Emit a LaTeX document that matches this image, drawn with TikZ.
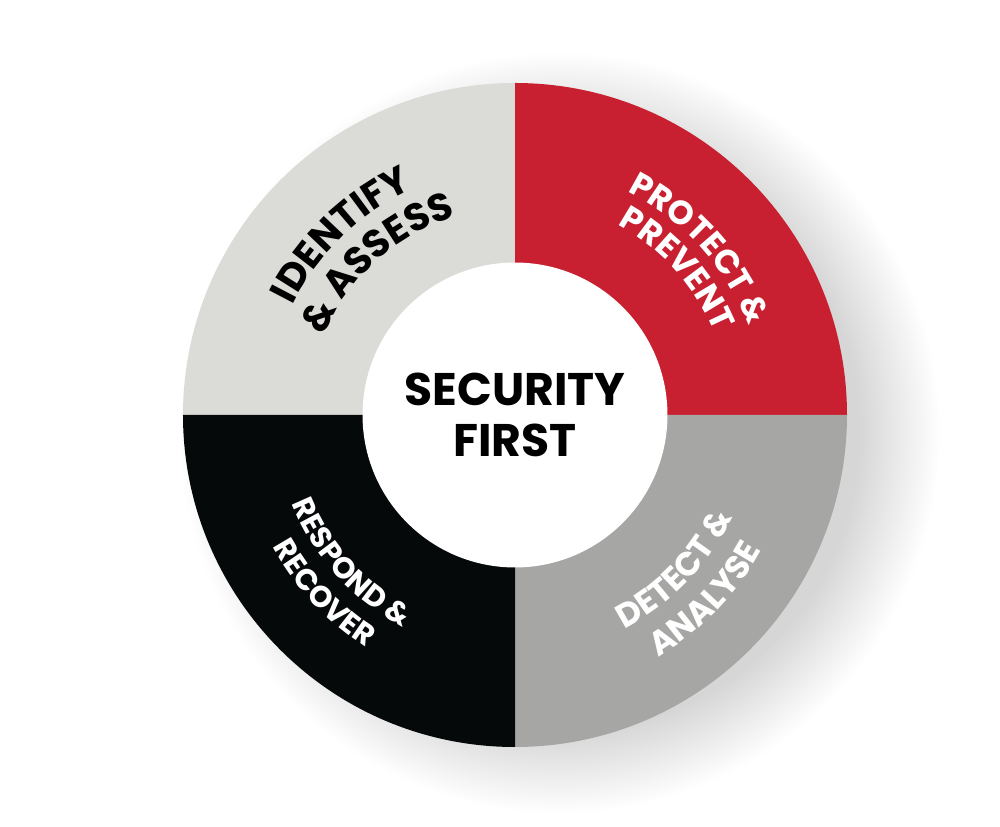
\documentclass[tikz,border=0pt]{standalone}
\usepackage{fontspec}
\setmainfont{Poppins}
\usetikzlibrary{decorations.text}

\definecolor{idgray}{RGB}{219,219,215}
\definecolor{protred}{RGB}{200,32,48}
\definecolor{detgray}{RGB}{166,166,165}
\definecolor{respblack}{RGB}{6,9,10}
\newcommand\quadfont[1]{\bfseries\fontsize{#1}{#1}\selectfont}

\begin{document}
\begin{tikzpicture}%
  [x=0.02cm,y=0.02cm,
   core/.style=
    {circle,fill=white,minimum size=6.1cm,inner sep=0pt,align=center,
     font=\bfseries\fontsize{26}{29}\selectfont},
   arclabel/.style=
    {decorate,decoration={text along path,text align=center,text color=#1}},
   halo/.style={fill=black,opacity=0.004}
  ]
  \useasboundingbox (-515,-412) rectangle (485,415);
  % soft shadow
  \foreach \i in {0,2,...,80}
    \fill[halo] (45,-18) circle[radius=300+\i];
  % the four quarters
  \foreach \col/\a in {idgray/90,protred/0,detgray/-90,respblack/180}
    \fill[\col] (0,0) -- (\a:332) arc[start angle=\a,end angle=\a+90,radius=332] -- cycle;
  \node[core] (core) at (0,0) {SECURITY\\FIRST};
  % labels along the ring
  \path[arclabel=black,decoration={text={|\quadfont{22}|IDENTIFY}}]
    (174:248) arc[start angle=174,end angle=94,radius=248];
  \path[arclabel=black,decoration={text={|\quadfont{22}|{\&} ASSESS}}]
    (172:207) arc[start angle=172,end angle=92,radius=207];
  \path[arclabel=white,decoration={text={|\quadfont{19}|PROTECT {\&}}}]
    (82:250) arc[start angle=82,end angle=2,radius=250];
  \path[arclabel=white,decoration={text={|\quadfont{19}|PREVENT}}]
    (82:216) arc[start angle=82,end angle=2,radius=216];
  \path[arclabel=white,decoration={text={|\quadfont{19}|DETECT {\&}}}]
    (-84:240) arc[start angle=-84,end angle=-4,radius=240];
  \path[arclabel=white,decoration={text={|\quadfont{19}|ANALYSE}}]
    (-84:281) arc[start angle=-84,end angle=-4,radius=281];
  \path[arclabel=white,decoration={text={|\quadfont{17}|RESPOND {\&}}}]
    (182:240) arc[start angle=182,end angle=262,radius=240];
  \path[arclabel=white,decoration={text={|\quadfont{17}|RECOVER}}]
    (183:276) arc[start angle=183,end angle=263,radius=276];
\end{tikzpicture}
\end{document}
